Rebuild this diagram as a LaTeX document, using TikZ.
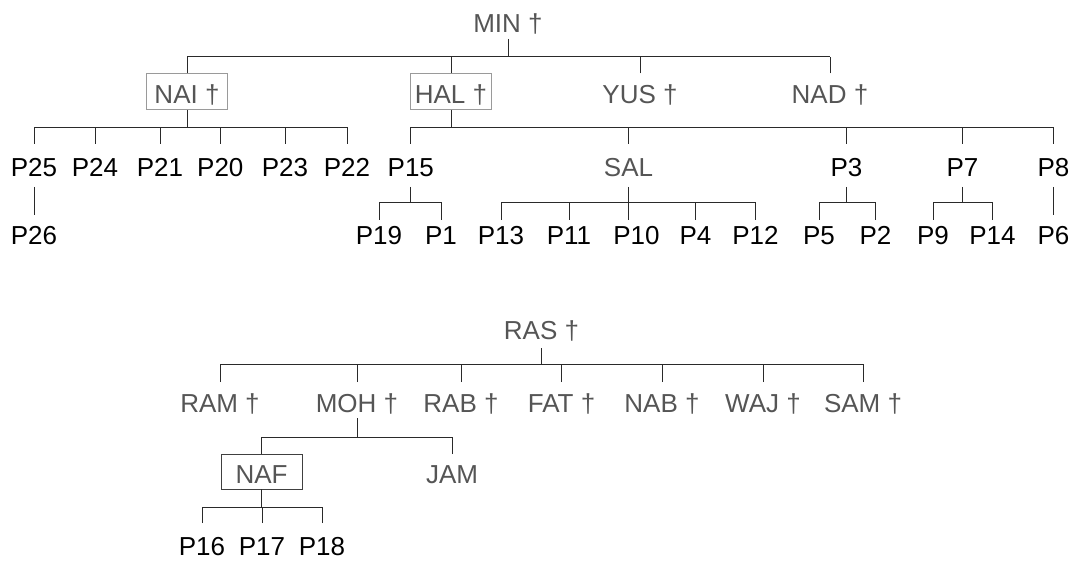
\documentclass[tikz,border=0pt]{standalone}
\usepackage{fontspec}
\setmainfont{Liberation Sans}
\definecolor{namec}{HTML}{555555}
\definecolor{boxc}{HTML}{9A9A9A}
\definecolor{nafc}{HTML}{404040}
\definecolor{linec}{HTML}{2A2A2A}
\tikzset{
  lbl/.style={anchor=base, inner sep=0pt, outer sep=0pt, font=\fontsize{26}{31}\selectfont},
  nm/.style={lbl, text=namec},
  pl/.style={lbl, text=black},
  topL/.style={text height=19pt, text depth=6.5pt},
  lvA/.style={text height=30pt, text depth=6.7pt},
  lvB/.style={text height=32.5pt, text depth=10.5pt},
  lvC/.style={text height=24.5pt, text depth=0pt},
  lvCd/.style={text height=29.5pt, text depth=0pt},
  rasL/.style={text height=19pt, text depth=8.5pt},
  lvD/.style={text height=30pt, text depth=6pt},
  lvE/.style={text height=29.3pt, text depth=5.7pt},
  lvF/.style={text height=32pt, text depth=0pt},
  grayframe/.style={draw=boxc, line width=1pt, minimum width=80.5pt},
  darkframe/.style={draw=nafc, line width=1pt, minimum width=81pt},
  conn/.style={draw=linec, line width=1pt},
}
\begin{document}
\begin{tikzpicture}[x=1pt,y=-1pt]
\useasboundingbox (0,0) rectangle (1075,561);
% ---------- top tree ----------
\node[nm,topL] (MIN) at (508,32.5) {MIN \dag};
\coordinate (busA) at (0,56.7);
\coordinate (busB) at (0,127.3);
\coordinate (busC) at (0,202.3);
\node[nm,lvA,grayframe] (NAI) at (187,103.3) {NAI \dag};
\node[nm,lvA,grayframe] (HAL) at (451,103.3) {HAL \dag};
\node[nm,lvA] (YUS) at (640,103.3) {YUS \dag};
\node[nm,lvA] (NAD) at (830,103.3) {NAD \dag};
% level 2
\node[pl,lvB] (P25) at (34,176.5) {P25};
\node[pl,lvB] (P24) at (95,176.5) {P24};
\node[pl,lvB] (P21) at (160,176.5) {P21};
\node[pl,lvB] (P20) at (220.3,176.5) {P20};
\node[pl,lvB] (P23) at (285,176.5) {P23};
\node[pl,lvB] (P22) at (347,176.5) {P22};
\node[pl,lvB] (P15) at (410.8,176.5) {P15};
\node[nm,lvB] (SAL) at (628.5,176.5) {SAL};
\node[pl,lvB] (P3) at (846.5,176.5) {P3};
\node[pl,lvB] (P7) at (962.5,176.5) {P7};
\node[pl,lvB] (P8) at (1053.5,176.5) {P8};
% level 3
\node[pl,lvCd] (P26) at (34,244.5) {P26};
\node[pl,lvC] (P19) at (379,244.5) {P19};
\node[pl,lvC] (P1) at (441,244.5) {P1};
\node[pl,lvC] (P13) at (501,244.5) {P13};
\node[pl,lvC] (P11) at (569,244.5) {P11};
\node[pl,lvC] (P10) at (636.5,244.5) {P10};
\node[pl,lvC] (P4) at (695.5,244.5) {P4};
\node[pl,lvC] (P12) at (755.5,244.5) {P12};
\node[pl,lvC] (P5) at (819,244.5) {P5};
\node[pl,lvC] (P2) at (875.5,244.5) {P2};
\node[pl,lvC] (P9) at (933,244.5) {P9};
\node[pl,lvC] (P14) at (992.5,244.5) {P14};
\node[pl,lvCd] (P6) at (1053.5,244.5) {P6};
% connectors top
\draw[conn] (MIN.south) -- (MIN.south |- busA);
\draw[conn] (NAI.north |- busA) -- (NAD.north |- busA);
\foreach \n in {NAI,HAL,YUS,NAD} \draw[conn] (\n.north) -- (\n.north |- busA);
\draw[conn] (NAI.south) -- (NAI.south |- busB);
\draw[conn] (P25.north |- busB) -- (P22.north |- busB);
\foreach \n in {P25,P24,P21,P20,P23,P22} \draw[conn] (\n.north) -- (\n.north |- busB);
\draw[conn] (HAL.south) -- (HAL.south |- busB);
\draw[conn] (P15.north |- busB) -- (P8.north |- busB);
\foreach \n in {P15,SAL,P3,P7,P8} \draw[conn] (\n.north) -- (\n.north |- busB);
\draw[conn] (P25.south) -- (P26.north);
\draw[conn] (P8.south) -- (P6.north);
\draw[conn] (P15.south) -- (P15.south |- busC);
\draw[conn] (P19.north |- busC) -- (P1.north |- busC);
\foreach \n in {P19,P1} \draw[conn] (\n.north) -- (\n.north |- busC);
\draw[conn] (SAL.south) -- (SAL.south |- P10.north);
\draw[conn] (P13.north |- busC) -- (P12.north |- busC);
\foreach \n in {P13,P11,P4,P12} \draw[conn] (\n.north) -- (\n.north |- busC);
\draw[conn] (P3.south) -- (P3.south |- busC);
\draw[conn] (P5.north |- busC) -- (P2.north |- busC);
\foreach \n in {P5,P2} \draw[conn] (\n.north) -- (\n.north |- busC);
\draw[conn] (P7.south) -- (P7.south |- busC);
\draw[conn] (P9.north |- busC) -- (P14.north |- busC);
\foreach \n in {P9,P14} \draw[conn] (\n.north) -- (\n.north |- busC);
% ---------- bottom tree ----------
\node[nm,rasL] (RAS) at (541.5,339.5) {RAS \dag};
\coordinate (busD) at (0,364);
\coordinate (busE) at (0,437);
\coordinate (busF) at (0,507);
\node[nm,lvD] (RAM) at (220,412) {RAM \dag};
\node[nm,lvD] (MOH) at (357,412) {MOH \dag};
\node[nm,lvD] (RAB) at (461,412) {RAB \dag};
\node[nm,lvD] (FAT) at (561.5,412) {FAT \dag};
\node[nm,lvD] (NAB) at (662,412) {NAB \dag};
\node[nm,lvD] (WAJ) at (763,412) {WAJ \dag};
\node[nm,lvD] (SAM) at (863,412) {SAM \dag};
\node[nm,lvE,darkframe] (NAF) at (261.5,483.3) {NAF};
\node[nm,lvE] (JAM) at (452,483.3) {JAM};
\node[pl,lvF] (P16) at (202,555) {P16};
\node[pl,lvF] (P17) at (262,555) {P17};
\node[pl,lvF] (P18) at (322,555) {P18};
\draw[conn] (RAS.south) -- (RAS.south |- busD);
\draw[conn] (RAM.north |- busD) -- (SAM.north |- busD);
\foreach \n in {RAM,MOH,RAB,FAT,NAB,WAJ,SAM} \draw[conn] (\n.north) -- (\n.north |- busD);
\draw[conn] (MOH.south) -- (MOH.south |- busE);
\draw[conn] (NAF.north |- busE) -- (JAM.north |- busE);
\foreach \n in {NAF,JAM} \draw[conn] (\n.north) -- (\n.north |- busE);
\draw[conn] (NAF.south) -- (NAF.south |- busF);
\draw[conn] (P16.north |- busF) -- (P18.north |- busF);
\foreach \n in {P16,P17,P18} \draw[conn] (\n.north) -- (\n.north |- busF);
\end{tikzpicture}
\end{document}
